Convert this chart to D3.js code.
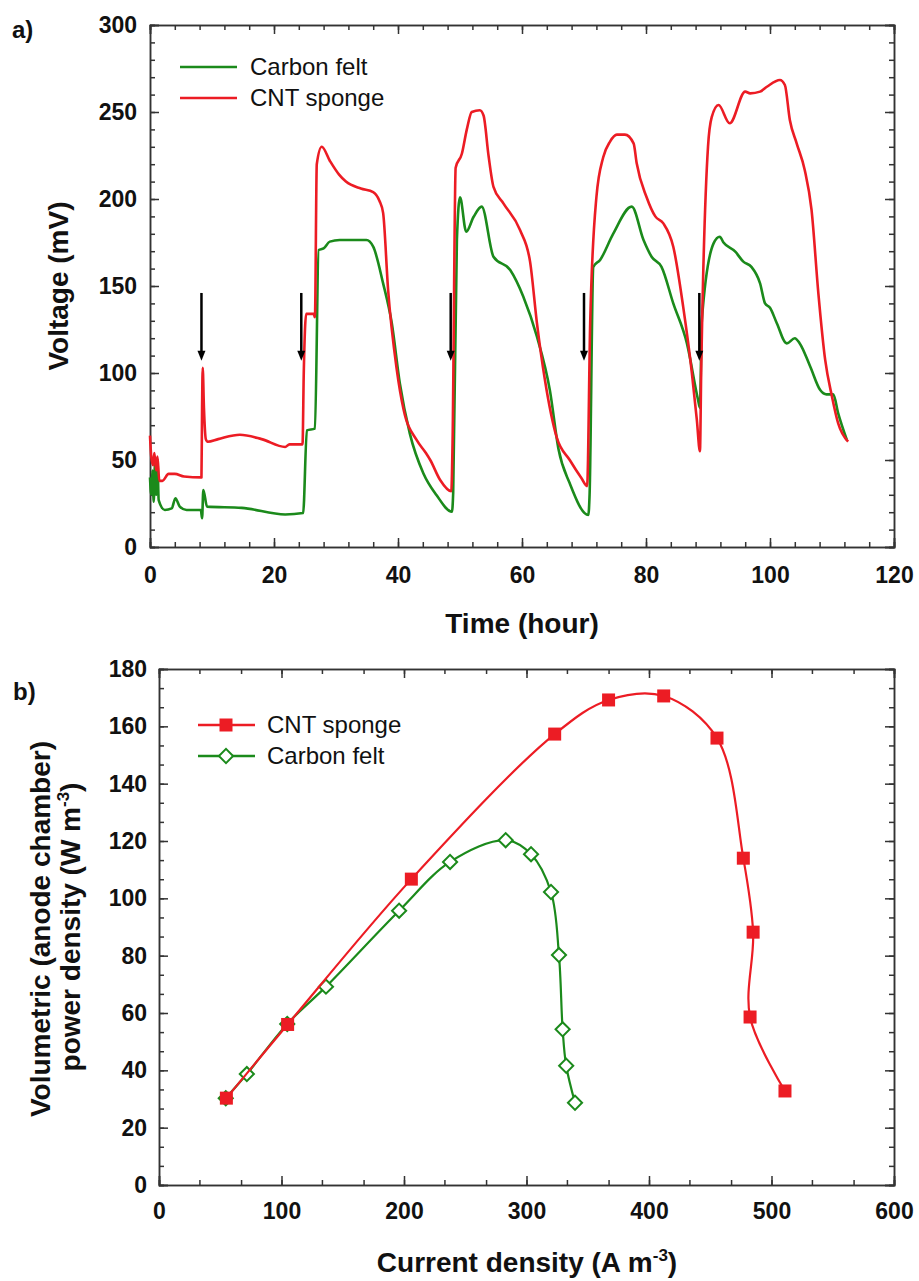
<!DOCTYPE html>
<html>
<head>
<meta charset="utf-8">
<script src="https://cdn.jsdelivr.net/npm/d3@7"></script>
<style>
  body { margin: 0; background: #fff; }
  svg { font-family: "Liberation Sans", Arial, sans-serif; }
  .axis path, .axis line { stroke: #333; stroke-width: 1.5; }
  .axis text { font-size: 23px; font-weight: bold; fill: #111; font-family: "Liberation Sans", Arial, sans-serif; }
</style>
</head>
<body>
<svg width="919" height="1281"></svg>
<script>
// panel a) voltage vs time, [hour, mV]
var cntVoltage = [
  [0,64],[0.2,52],[0.5,47],[0.7,54],[1.0,44],[1.2,52],[1.5,38],[2.0,38],[3.0,42],[4.0,42],[5.5,40.5],[8.3,40],
  [8.4,80],[8.5,103],[8.7,80],[9.0,62],[9.3,60.5],[11,62],[14.5,64.5],[18,62],[21.8,57.5],[22.5,59],[24.6,59],
  [24.8,100],[25.2,134],[26.4,134],[26.6,132],[26.9,220],[27.7,230],[29,222],[30.5,214],[31.6,210],[34,206],[36,204],[37,199],
  [37.6,192],[38.4,148],[39.8,102],[40.9,79],[43,61.5],[44.5,54],[45.2,50],[46.8,38.5],[48.6,32],[48.8,60],
  [49.3,218],[50.3,226],[51.1,240],[51.9,250],[53.2,251],[53.8,248],[54.6,225],[55.4,207],[57,197.5],[59.7,182],[61.3,164],[62.4,129],
  [63.7,96],[65.6,63],[67.7,50],[69.6,39.5],[70.5,35],[71,129],[72,201],[73.1,224],[74.2,233],[75.3,237],[76.6,237],[78,232],
  [78.5,220.5],[80.1,201],[81.5,190],[82.8,186],[84.4,172.6],[86,138],[87.4,100],[88.2,73],[88.7,55],[88.9,100],
  [90,230],[90.6,247],[91.7,254],[93.5,243.5],[96,261.7],[96.8,260.7],[98.4,261.7],[99.5,264.5],[101.6,268.4],
  [102.4,265.5],[103.2,245.4],[104.3,232],[105.6,216.7],[106.7,193.7],[107.8,145.8],[108.9,107.5],[110,86.4],
  [111,71],[112.6,60.5]
];
var feltVoltage = [
  [0,40],[0.2,30],[0.4,44],[0.6,26],[0.8,48],[1.0,30],[1.2,50],[1.4,27],[2.4,21.3],[3.5,22.2],[4.1,28],[4.8,23.2],
  [5.9,21.3],[8.2,21.3],[8.4,16.5],[8.6,32.8],[9.2,23.2],[14.8,22.5],[21.8,18.7],[24.7,19.5],[25.3,67],[26.6,68],
  [27.2,170.7],[28,171.6],[29,175.5],[30.6,176.4],[34.9,176.4],[36,172.6],[37.6,151.5],[39,128.6],[40.3,94],
  [41.9,65.3],[44.1,42.3],[46.2,29.9],[48.7,20.3],[48.9,31],[49.5,176.4],[50,201],[51,181.2],[52.2,189.8],
  [53.5,195.6],[55.4,166.8],[58.1,159.2],[60.2,144],[62.4,121],[64.5,90],[65.9,56],[67.7,36.6],[70.7,18.4],
  [70.9,30],[71.5,161],[72.6,165],[74.7,180],[77.7,195.6],[79.6,176.4],[80.9,166.8],[82.5,161],[84.4,140],
  [86.6,117],[88.4,84.5],[88.7,80],[89,130],[90.9,174.5],[91.9,178.3],[92.5,175],[94.4,169.7],[95.7,164],[97,161],
  [98.4,151.5],[99.2,140],[100,137.5],[101.1,128.6],[102.7,117],[104,120],[104.8,117],[106.5,103.6],[108.1,90.2],
  [109.1,87.7],[110.2,87.7],[111,76.8],[112.4,61.5]
];
// arrows: time, from mV, to mV
var arrowTimes = [8.3, 24.4, 48.5, 70, 88.6];
var arrowFrom = 146, arrowTo = 107;

// panel b) power density vs current density, [A m-3, W m-3]
var cntPower = [[55,30.3],[105,56],[206,106.7],[323,157.3],[367,169.2],[412,170.6],[455.5,155.9],[477,114],[485,88.2],[482.5,58.6],[511,32.8]];
var feltPower = [[54.5,30.3],[71.7,38.7],[104.7,56.2],[136.3,69.2],[196,95.7],[237.6,112.7],[283,120.3],[303.7,115.4],[320,102.2],[326.5,80.2],[329.5,54.3],[332.4,41.6],[339.6,28.7]];

var timeTicks = [0, 20, 40, 60, 80, 100, 120];
var voltTicks = [0, 50, 100, 150, 200, 250, 300];
var currTicks = [0, 100, 200, 300, 400, 500, 600];
var powerTicks = [0, 20, 40, 60, 80, 100, 120, 140, 160, 180];

var RED = "#ec1c24", GREEN = "#1b8a1b";
var svg = d3.select("svg");

function frame(x, y, major, minorX, minorY, px, py, fmtX, fmtY) {
  var x0 = x.range()[0], x1 = x.range()[1], y0 = y.range()[0], y1 = y.range()[1];
  // minor ticks on all sides
  svg.append("g").attr("class", "axis").attr("transform", "translate(0," + y0 + ")")
    .call(d3.axisBottom(x).tickValues(minorX).tickSize(-5).tickFormat(""));
  svg.append("g").attr("class", "axis").attr("transform", "translate(0," + y1 + ")")
    .call(d3.axisTop(x).tickValues(minorX).tickSize(-5).tickFormat(""));
  svg.append("g").attr("class", "axis").attr("transform", "translate(" + x0 + ",0)")
    .call(d3.axisLeft(y).tickValues(minorY).tickSize(-5).tickFormat(""));
  svg.append("g").attr("class", "axis").attr("transform", "translate(" + x1 + ",0)")
    .call(d3.axisRight(y).tickValues(minorY).tickSize(-5).tickFormat(""));
  // major ticks with labels
  svg.append("g").attr("class", "axis").attr("transform", "translate(0," + y0 + ")")
    .call(d3.axisBottom(x).tickValues(major[0]).tickSize(-9).tickPadding(px).tickFormat(fmtX));
  svg.append("g").attr("class", "axis").attr("transform", "translate(0," + y1 + ")")
    .call(d3.axisTop(x).tickValues(major[0]).tickSize(-9).tickFormat(""));
  svg.append("g").attr("class", "axis").attr("transform", "translate(" + x0 + ",0)")
    .call(d3.axisLeft(y).tickValues(major[1]).tickSize(-9).tickPadding(py).tickFormat(fmtY));
  svg.append("g").attr("class", "axis").attr("transform", "translate(" + x1 + ",0)")
    .call(d3.axisRight(y).tickValues(major[1]).tickSize(-9).tickFormat(""));
}

function label(x, y, txt, size, weight, rot) {
  var t = svg.append("text").attr("x", x).attr("y", y)
    .attr("font-size", size).attr("font-weight", weight || "normal").attr("fill", "#111").text(txt);
  if (rot) t.attr("transform", "rotate(-90," + x + "," + y + ")").attr("text-anchor", "middle");
  return t;
}

// ---------- panel a ----------
var xa = d3.scaleLinear().domain([0, 120]).range([150, 894]);
var ya = d3.scaleLinear().domain([0, 300]).range([547, 25]);

frame(xa, ya, [timeTicks, voltTicks], d3.range(0, 121, 4), d3.range(0, 301, 10), 20, 13, d3.format("d"), d3.format("d"));

var lineA = d3.line().x(d => xa(d[0])).y(d => ya(d[1])).curve(d3.curveMonotoneX);
svg.append("path").datum(feltVoltage).attr("d", lineA)
  .attr("fill", "none").attr("stroke", GREEN).attr("stroke-width", 2.6).attr("stroke-linejoin", "round");
svg.append("path").datum(cntVoltage).attr("d", lineA)
  .attr("fill", "none").attr("stroke", RED).attr("stroke-width", 2.6).attr("stroke-linejoin", "round");

// arrows
var arr = svg.append("g");
arrowTimes.forEach(function(t) {
  var ax = xa(t), top = ya(arrowFrom), tip = ya(arrowTo);
  arr.append("line").attr("x1", ax).attr("x2", ax).attr("y1", top).attr("y2", tip - 8)
    .attr("stroke", "#000").attr("stroke-width", 2.5);
  arr.append("path").attr("d", "M" + (ax - 4) + "," + (tip - 10) + "L" + (ax + 4) + "," + (tip - 10) + "L" + ax + "," + tip + "Z")
    .attr("fill", "#000");
});

// legend a
var legA = [["Carbon felt", GREEN], ["CNT sponge", RED]];
legA.forEach(function(d, i) {
  var ly = 67 + i * 31;
  svg.append("line").attr("x1", 180).attr("x2", 237).attr("y1", ly).attr("y2", ly)
    .attr("stroke", d[1]).attr("stroke-width", 2.6);
  label(250, ly + 8, d[0], 24);
});

label(12, 38, "a)", 24, "bold");
label(68, 286, "Voltage (mV)", 28, "bold", true);
label(522, 633, "Time (hour)", 28, "bold").attr("text-anchor", "middle");

// ---------- panel b ----------
var xb = d3.scaleLinear().domain([0, 600]).range([159, 894]);
var yb = d3.scaleLinear().domain([0, 180]).range([1185, 669]);

frame(xb, yb, [currTicks, powerTicks], d3.range(0, 601, 100 / 3).map(Math.round), d3.range(0, 181, 20 / 3), 18, 12, d3.format("d"), d3.format("d"));

var lineB = d3.line().x(d => xb(d[0])).y(d => yb(d[1])).curve(d3.curveCatmullRom.alpha(0.5));
var diamond = d3.symbol().type(d3.symbolSquare).size(100);

svg.append("path").datum(feltPower).attr("d", lineB)
  .attr("fill", "none").attr("stroke", GREEN).attr("stroke-width", 2.2);
svg.append("g").selectAll("path").data(feltPower).join("path")
  .attr("d", diamond)
  .attr("transform", d => "translate(" + xb(d[0]) + "," + yb(d[1]) + ") rotate(45)")
  .attr("fill", "#fff").attr("stroke", GREEN).attr("stroke-width", 2);

svg.append("path").datum(cntPower).attr("d", lineB)
  .attr("fill", "none").attr("stroke", RED).attr("stroke-width", 2.2);
svg.append("g").selectAll("rect").data(cntPower).join("rect")
  .attr("x", d => xb(d[0]) - 6.5).attr("y", d => yb(d[1]) - 6.5)
  .attr("width", 13).attr("height", 13).attr("fill", RED);

// legend b
svg.append("line").attr("x1", 198).attr("x2", 255).attr("y1", 725).attr("y2", 725)
  .attr("stroke", RED).attr("stroke-width", 2.5);
svg.append("rect").attr("x", 226 - 6.5).attr("y", 725 - 6.5).attr("width", 13).attr("height", 13).attr("fill", RED);
label(267, 733, "CNT sponge", 24);
svg.append("line").attr("x1", 198).attr("x2", 255).attr("y1", 756).attr("y2", 756)
  .attr("stroke", GREEN).attr("stroke-width", 2.5);
svg.append("path").attr("d", diamond).attr("transform", "translate(226,756) rotate(45)")
  .attr("fill", "#fff").attr("stroke", GREEN).attr("stroke-width", 2);
label(267, 764, "Carbon felt", 24);

label(13, 700, "b)", 24, "bold");
label(50, 929, "Volumetric (anode chamber)", 28, "bold", true);
var yt2 = label(80, 927, "power density (W m", 28, "bold", true);
yt2.append("tspan").attr("font-size", 17).attr("dy", -11).text("-3");
yt2.append("tspan").attr("dy", 11).text(")");

var xt2 = label(527, 1272, "Current density (A m", 28, "bold").attr("text-anchor", "middle");
xt2.append("tspan").attr("font-size", 17).attr("dy", -11).text("-3");
xt2.append("tspan").attr("dy", 11).text(")");
</script>
</body>
</html>
